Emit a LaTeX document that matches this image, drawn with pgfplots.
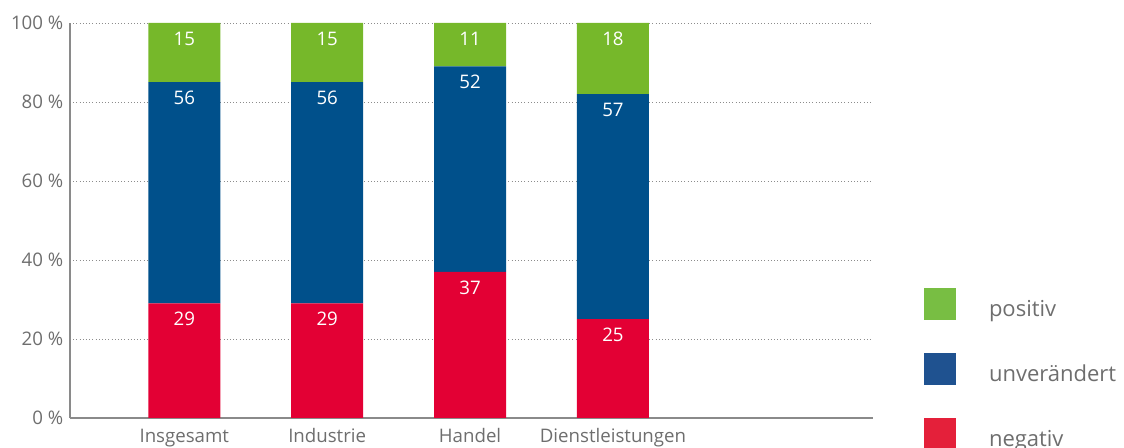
\documentclass[border=0pt]{standalone}
\usepackage{fontspec}
\setmainfont{Open Sans}
\usepackage{pgfplots}
\pgfplotsset{compat=1.18}
\definecolor{cpos}{HTML}{76B82A}
\definecolor{cunv}{HTML}{00508B}
\definecolor{cneg}{HTML}{E30034}
\definecolor{lpos}{HTML}{78BE43}
\definecolor{lunv}{HTML}{1F5290}
\definecolor{lneg}{HTML}{E4203A}
\definecolor{axisgray}{HTML}{8A8A8A}
\definecolor{labelgray}{HTML}{6E6E6E}
\definecolor{gridgray}{HTML}{8C8C8C}
\begin{document}
\begin{tikzpicture}
\useasboundingbox (-52.5pt,-22.5pt) rectangle (790.5pt,313.5pt);
\begin{axis}[
  at={(0,0)}, anchor=south west,
  scale only axis, width=602.25pt, height=296.25pt,
  ybar stacked, bar width=54pt,
  xmin=-0.8, xmax=4.82, ymin=0, ymax=100,
  xtick={0,1,2,3},
  xticklabels={Insgesamt,Industrie,Handel,Dienstleistungen},
  ytick={0,20,...,100},
  /pgf/number format/assume math mode=true,
  yticklabel={\pgfmathprintnumber{\tick}\ \%},
  axis x line*=bottom, axis y line*=left,
  axis line style={draw=axisgray, line width=1.2pt, -},
  major tick length=0pt,
  ymajorgrids,
  grid style={dotted, gridgray, line width=0.7pt},
  tick label style={font=\fontsize{14}{17}\selectfont, text=labelgray},
  yticklabel style={xshift=-1.5pt},
  xticklabel style={yshift=-4.5pt},
  nodes near coords,
  point meta=explicit symbolic,
  every node near coord/.style={anchor=north, text=white, font=\fontsize{14}{17}\selectfont, yshift={\pgfplotspointmeta*1.48125pt-3pt}},
  legend image code/.code={\fill[#1] (0pt,-8pt) rectangle (24pt,16pt);},
  legend style={at={(1.0635,0.329)}, anchor=north west, draw=none, fill=none,
    inner sep=0pt, outer sep=0pt, row sep=24.75pt,
    font=\fontsize{16.5}{20}\selectfont, text=labelgray,
    nodes={inner sep=0pt, outer sep=0pt},
    /tikz/every odd column/.append style={column sep=24.75pt}},
  legend cell align=left,
]
\addplot[fill=cneg, draw=none, forget plot] coordinates {(0,29) [29] (1,29) [29] (2,37) [37] (3,25) [25]};
\addplot[fill=cunv, draw=none, forget plot] coordinates {(0,56) [56] (1,56) [56] (2,52) [52] (3,57) [57]};
\addplot[fill=cpos, draw=none, forget plot] coordinates {(0,15) [15] (1,15) [15] (2,11) [11] (3,18) [18]};
\addlegendimage{fill=lpos, draw=none}
\addlegendentry{positiv}
\addlegendimage{fill=lunv, draw=none}
\addlegendentry{unverändert}
\addlegendimage{fill=lneg, draw=none}
\addlegendentry{negativ}
\end{axis}
\end{tikzpicture}
\end{document}
